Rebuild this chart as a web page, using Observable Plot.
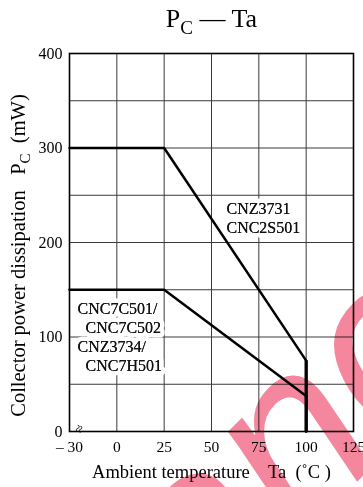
<!DOCTYPE html>
<html><head><meta charset="utf-8">
<script src="https://cdn.jsdelivr.net/npm/d3@7"></script>
<script src="https://cdn.jsdelivr.net/npm/@observablehq/plot@0.6"></script>
<style>
html,body{margin:0;padding:0;background:#fff;overflow:hidden;}
svg text{white-space:pre;}
</style></head><body><div id="chart"></div>
<script>
// ---- data ----
const xTickValues = [-30, 0, 25, 50, 75, 100, 125];
const xTickLabels = ["– 30", "0", "25", "50", "75", "100", "125"];
const yTickValues = [0, 100, 200, 300, 400];
const yGridValues = [0, 50, 100, 150, 200, 250, 300, 350, 400];
const taValues = [-30, 25, 100, 100];
const pcUpper = [300, 300, 75, 0];     // CNZ3731 / CNC2S501
const pcLower = [150, 150, 37.5, 0];   // CNC7C501 / CNC7C502 / CNZ3734 / CNC7H501
const upperLabel = ["CNZ3731", "CNC2S501"];
const lowerLabelA = ["CNC7C501/", "CNZ3734/"];
const lowerLabelB = ["CNC7C502", "CNC7H501"];

// broken axis: -30 is drawn one division left of 0
const brk = t => (t < 0 ? t * 25 / 30 : t);

const upper = taValues.map((t, i) => ({ta: t, pc: pcUpper[i]}));
const lower = taValues.map((t, i) => ({ta: t, pc: pcLower[i]}));

const serif = "Liberation Serif, Times New Roman, serif";

const chart = Plot.plot({
  width: 363, height: 487,
  marginTop: 53, marginBottom: 56, marginLeft: 69, marginRight: 10,
  style: {fontFamily: serif, fontSize: "15px", background: "white", overflow: "hidden"},
  x: {domain: [-25, 125], axis: null},
  y: {domain: [0, 400], axis: null},
  marks: [
    Plot.ruleX(xTickValues, {x: brk, stroke: "#3a3a3a", strokeWidth: 1}),
    Plot.ruleY(yGridValues, {y: d => d, stroke: "#3a3a3a", strokeWidth: 1}),
    Plot.frame({stroke: "black", strokeWidth: 1.6}),
    // labels with white background
    Plot.text(upperLabel, {x: 57.9, y: [230.4, 209.8], text: d => d, textAnchor: "start", lineAnchor: "bottom",
      fontSize: 16, stroke: "white", strokeWidth: 9, fill: "#111"}),
    Plot.text(lowerLabelA, {y: [124.5, 84], text: d => d, frameAnchor: "left", dx: 8, textAnchor: "start", lineAnchor: "bottom",
      fontSize: 16, stroke: "white", strokeWidth: 9, fill: "#111"}),
    Plot.text(lowerLabelB, {y: [104, 64.5], text: d => d, frameAnchor: "left", dx: 16, textAnchor: "start", lineAnchor: "bottom",
      fontSize: 16, stroke: "white", strokeWidth: 9, fill: "#111"}),
    Plot.text(upperLabel, {x: 57.9, y: [230.4, 209.8], text: d => d, textAnchor: "start", lineAnchor: "bottom",
      fontSize: 16, fill: "#111"}),
    Plot.text(lowerLabelA, {y: [124.5, 84], text: d => d, frameAnchor: "left", dx: 8, textAnchor: "start", lineAnchor: "bottom",
      fontSize: 16, fill: "#111"}),
    Plot.text(lowerLabelB, {y: [104, 64.5], text: d => d, frameAnchor: "left", dx: 16, textAnchor: "start", lineAnchor: "bottom",
      fontSize: 16, fill: "#111"}),
    // derating curves
    Plot.line(upper, {x: d => brk(d.ta), y: "pc", stroke: "black", strokeWidth: 2.5, strokeLinejoin: "miter"}),
    Plot.line(lower, {x: d => brk(d.ta), y: "pc", stroke: "black", strokeWidth: 2.5, strokeLinejoin: "miter"}),
    Plot.ruleX([taValues[3]], {x: d => d, y1: 0, y2: pcUpper[2], stroke: "black", strokeWidth: 3.2}),
    // tick labels
    Plot.text(xTickValues, {x: brk, text: (d, i) => xTickLabels[i], frameAnchor: "bottom", lineAnchor: "top", dy: 9, fontSize: 15.5}),
    Plot.text(yTickValues, {y: d => d, text: d => String(d), frameAnchor: "left", textAnchor: "end", dx: -7, fontSize: 16}),
    // axis break symbol
    Plot.text(["≈"], {x: -25, text: d => d, frameAnchor: "bottom", dx: 14, dy: -1, rotate: -70, fontSize: 14}),
    // title and axis titles
    Plot.text(["P_C — Ta"], {text: d => d, frameAnchor: "top", dy: -27, lineAnchor: "bottom", textAnchor: "middle", fontSize: 26}),
    Plot.text(["Ambient temperature    Ta  (˚C )"], {text: d => d, frameAnchor: "bottom", dy: 46, lineAnchor: "bottom",
      textAnchor: "middle", fontSize: 18.5}),
    Plot.text(["Collector power dissipation   P_C  (mW)"], {text: d => d, frameAnchor: "left", dx: -45, dy: 13, rotate: -90,
      lineAnchor: "bottom", textAnchor: "middle", fontSize: 20.5}),
    // watermark
    Plot.text(["Maintenance"], {text: d => d, frameAnchor: "top-left", dx: -470, dy: 1186, textAnchor: "start", lineAnchor: "bottom",
      rotate: -45, fontSize: 240, fontStyle: "italic", fontFamily: "Liberation Sans, Arial, sans-serif",
      fill: "#f4879d", mixBlendMode: "multiply"})
  ]
});

// subscripts for P_C
d3.select(chart).selectAll("text").each(function () {
  const t = this.textContent;
  if (t.includes("_C")) {
    const big = t.startsWith("P_C");
    const [a, b] = t.split("_C");
    const sel = d3.select(this);
    this.textContent = "";
    sel.append("tspan").text(a);
    sel.append("tspan").attr("font-size", big ? 19 : 15).attr("dy", big ? 7 : 5).text("C");
    sel.append("tspan").attr("dy", big ? -7 : -5).text(b);
  }
});

document.getElementById("chart").appendChild(chart);
</script>
</body></html>
